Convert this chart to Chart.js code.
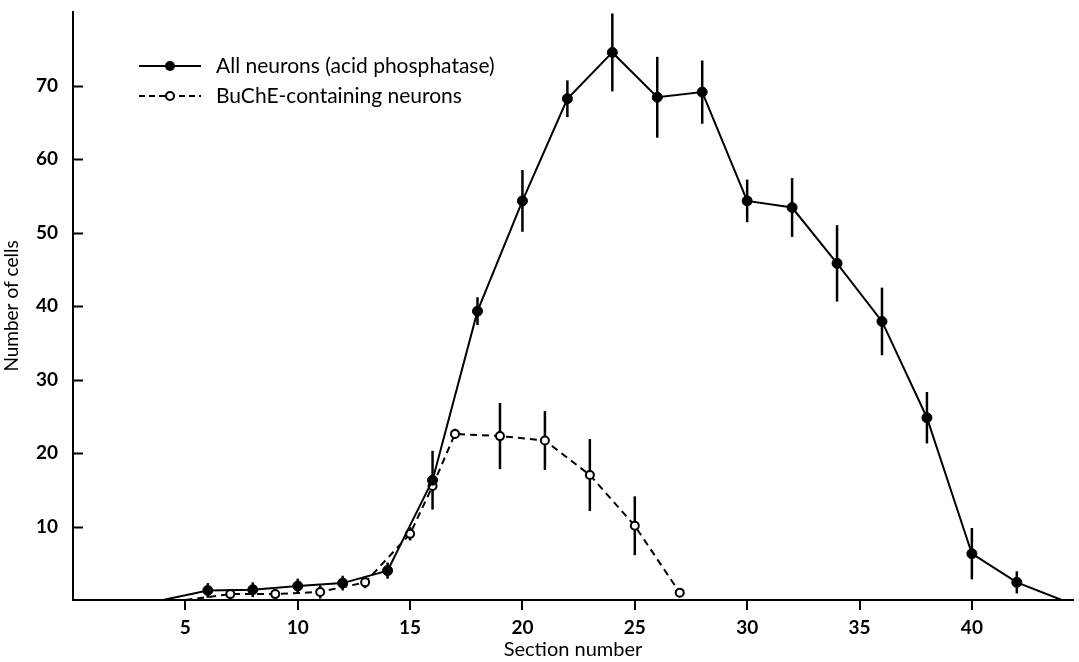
<!DOCTYPE html>
<html>
<head>
<meta charset="utf-8">
<script src="https://cdn.jsdelivr.net/npm/chart.js@4.4.0/dist/chart.umd.min.js"></script>
<style>
html, body { margin: 0; background: #fff; }
</style>
</head>
<body>
<canvas id="myChart" width="1079" height="662"></canvas>
<script>
// All neurons (acid phosphatase)
const allX   = [4, 6, 8, 10, 12, 14, 16, 18, 20, 22, 24, 26, 28, 30, 32, 34, 36, 38, 40, 42, 44];
const allY   = [0, 1.3, 1.4, 1.9, 2.3, 4.0, 16.3, 39.3, 54.3, 68.2, 74.5, 68.4, 69.1, 54.3, 53.4, 45.8, 37.9, 24.8, 6.3, 2.4, 0];
const allErr = [0, 1.0, 1.0, 1.0, 1.0, 1.1, 4.0, 1.9, 4.2, 2.5, 5.3, 5.5, 4.3, 2.9, 4.0, 5.2, 4.6, 3.5, 3.5, 1.5, 0];

// BuChE-containing neurons
const buX   = [5, 7, 9, 11, 13, 15, 16, 17, 19, 21, 23, 25, 27];
const buY   = [0, 0.8, 0.8, 1.1, 2.4, 9.0, 15.5, 22.6, 22.3, 21.7, 17.0, 10.1, 1.0];
const buErr = [0, 0.5, 0.5, 0.9, 0.8, 0.9, 0, 0.7, 4.5, 4.0, 4.9, 4.0, 0];

const xTicks = [5, 10, 15, 20, 25, 30, 35, 40];
const yTicks = [10, 20, 30, 40, 50, 60, 70];

const legendItems = ['All neurons (acid phosphatase)', 'BuChE-containing neurons'];

const toPoints = (xs, ys) => xs.map((x, i) => ({ x: x, y: ys[i] }));

const FONT = 'Lato, "Open Sans", sans-serif';

// 誤差棒（縦線）
const errorBars = {
    id: 'errorBars',
    beforeDatasetsDraw(chart) {
        const { ctx, scales: { x, y } } = chart;
        ctx.save();
        ctx.strokeStyle = '#000';
        ctx.lineWidth = 2.5;
        chart.data.datasets.forEach((ds) => {
            ds.data.forEach((p, i) => {
                const e = ds.errors[i];
                if (!e) return;
                const px = x.getPixelForValue(p.x);
                ctx.beginPath();
                ctx.moveTo(px, y.getPixelForValue(p.y + e));
                ctx.lineTo(px, y.getPixelForValue(p.y - e));
                ctx.stroke();
            });
        });
        ctx.restore();
    }
};

// 目盛り線（y軸は内側、x軸は外側）と左上の凡例
const extras = {
    id: 'extras',
    afterDraw(chart) {
        const { ctx, scales: { x, y } } = chart;
        ctx.save();
        ctx.strokeStyle = '#000';
        ctx.lineWidth = 2;
        yTicks.forEach((v) => {
            const py = Math.round(y.getPixelForValue(v)) + 0.5;
            ctx.beginPath();
            ctx.moveTo(x.left, py);
            ctx.lineTo(x.left + 10, py);
            ctx.stroke();
        });
        xTicks.forEach((v) => {
            const px = Math.round(x.getPixelForValue(v));
            ctx.beginPath();
            ctx.moveTo(px, y.bottom);
            ctx.lineTo(px, y.bottom + 10);
            ctx.stroke();
        });

        // 凡例
        const lx1 = 139, lx2 = 201, cx = 170, tx = 216;
        const rows = [66, 96];
        ctx.lineWidth = 2;
        ctx.beginPath();
        ctx.moveTo(lx1, rows[0]);
        ctx.lineTo(lx2, rows[0]);
        ctx.stroke();
        ctx.beginPath();
        ctx.arc(cx, rows[0], 5, 0, Math.PI * 2);
        ctx.fillStyle = '#000';
        ctx.fill();

        ctx.setLineDash([6, 4]);
        ctx.beginPath();
        ctx.moveTo(lx1, rows[1]);
        ctx.lineTo(lx2, rows[1]);
        ctx.stroke();
        ctx.setLineDash([]);
        ctx.beginPath();
        ctx.arc(cx, rows[1], 4, 0, Math.PI * 2);
        ctx.fillStyle = '#fff';
        ctx.fill();
        ctx.stroke();

        ctx.fillStyle = '#000';
        ctx.font = '21px ' + FONT;
        ctx.textBaseline = 'middle';
        ctx.fillText(legendItems[0], tx, rows[0]);
        ctx.fillText(legendItems[1], tx, rows[1]);
        ctx.restore();
    }
};

const data = {
    datasets: [
        {
            label: legendItems[0],
            data: toPoints(allX, allY),
            errors: allErr,
            borderColor: '#000',
            borderWidth: 2,
            // 両端はマーカーなし
            pointRadius: allX.map((v, i) => (i === 0 || i === allX.length - 1) ? 0 : 5),
            pointBackgroundColor: '#000',
            pointBorderColor: '#000',
            pointBorderWidth: 1,
            tension: 0
        },
        {
            label: legendItems[1],
            data: toPoints(buX, buY),
            errors: buErr,
            borderColor: '#000',
            borderWidth: 2,
            borderDash: [7, 5],
            pointRadius: buX.map((v, i) => i === 0 ? 0 : 4),
            pointBackgroundColor: '#fff',
            pointBorderColor: '#000',
            pointBorderWidth: 2,
            tension: 0
        }
    ]
};

const config = {
    type: 'line',
    data: data,
    options: {
        responsive: false,
        animation: false,
        layout: { padding: { top: 12, right: 0, left: 0, bottom: 0 } },
        plugins: {
            legend: { display: false },
            tooltip: { enabled: false }
        },
        scales: {
            x: {
                type: 'linear',
                min: 0,
                max: 44.5,
                afterBuildTicks: (s) => { s.ticks = xTicks.map(v => ({ value: v })); },
                afterFit: (s) => { s.height = 62; },
                border: { display: true, color: '#000', width: 2 },
                grid: { drawOnChartArea: false, drawTicks: true, tickLength: 16, tickColor: 'rgba(0,0,0,0)' },
                ticks: { color: '#000', padding: 0, maxRotation: 0, font: { family: FONT, size: 19, weight: 'bold' } },
                title: { display: true, text: 'Section number', color: '#000', padding: { top: 0, bottom: 0 }, font: { family: FONT, size: 20 } }
            },
            y: {
                min: 0,
                max: 80,
                afterBuildTicks: (s) => { s.ticks = yTicks.map(v => ({ value: v })); },
                afterFit: (s) => { s.width = 73; s.paddingTop = 0; s.paddingBottom = 0; },
                border: { display: true, color: '#000', width: 2 },
                grid: { drawOnChartArea: false, drawTicks: false },
                ticks: { color: '#000', padding: 15, font: { family: FONT, size: 19, weight: 'bold' } },
                title: { display: true, text: 'Number of cells', color: '#000', padding: { top: 0, bottom: 0 }, font: { family: FONT, size: 19 } }
            }
        }
    },
    plugins: [errorBars, extras]
};

const myChart = new Chart(document.getElementById('myChart').getContext('2d'), config);
</script>
</body>
</html>
